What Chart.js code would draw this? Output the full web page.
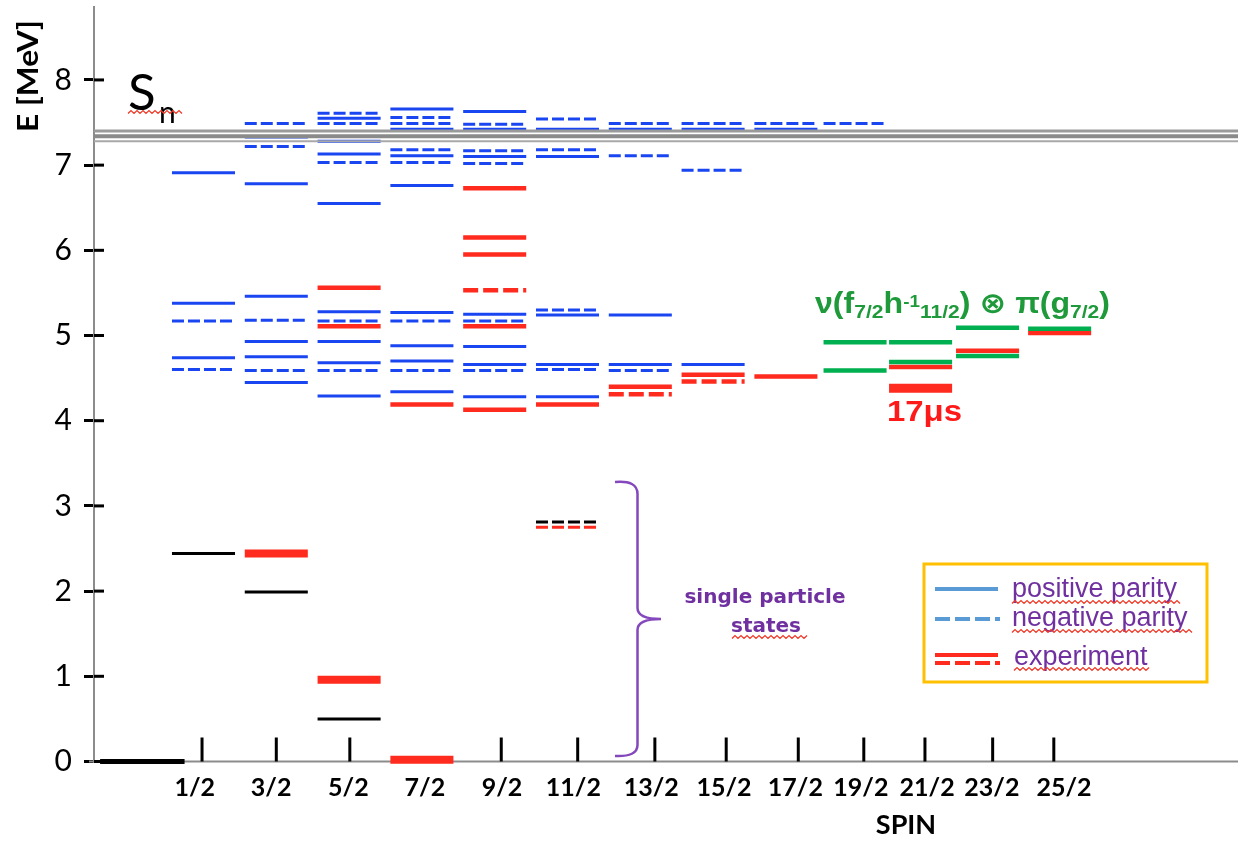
<!DOCTYPE html>
<html>
<head>
<meta charset="utf-8">
<title>Level scheme</title>
<script src="https://cdn.jsdelivr.net/npm/chart.js@4.4.1/dist/chart.umd.min.js"></script>
<style>
  html, body { margin: 0; padding: 0; background: #ffffff; }
  #chartBox { position: relative; width: 1238px; height: 841px; }
</style>
</head>
<body>
<div id="chartBox"><canvas id="levelChart"></canvas></div>
<script>
// spin columns, '0' is the ground state column
const spins = ['0', '1/2', '3/2', '5/2', '7/2', '9/2', '11/2', '13/2', '15/2', '17/2', '19/2', '21/2', '23/2', '25/2'];
const energyTicks = [0, 1, 2, 3, 4, 5, 6, 7, 8];

// neutron separation energy and its band [MeV]
const snEnergy = 7.34;
const snBand = [7.40, 7.28];

// shell model, positive parity  [spin, E in MeV]
const calcPositive = [
  ['1/2', 6.91], ['1/2', 5.38], ['1/2', 4.74],
  ['3/2', 7.33], ['3/2', 6.78], ['3/2', 5.46], ['3/2', 4.93], ['3/2', 4.75], ['3/2', 4.45],
  ['5/2', 7.55], ['5/2', 7.28], ['5/2', 7.13], ['5/2', 6.55], ['5/2', 5.28], ['5/2', 4.93], ['5/2', 4.68], ['5/2', 4.29],
  ['7/2', 7.66], ['7/2', 7.42], ['7/2', 7.11], ['7/2', 6.76], ['7/2', 5.27], ['7/2', 4.88], ['7/2', 4.70], ['7/2', 4.34],
  ['9/2', 7.63], ['9/2', 7.42], ['9/2', 7.10], ['9/2', 5.25], ['9/2', 4.87], ['9/2', 4.66], ['9/2', 4.28],
  ['11/2', 7.42], ['11/2', 7.10], ['11/2', 5.24], ['11/2', 4.66], ['11/2', 4.28],
  ['13/2', 7.42], ['13/2', 5.24], ['13/2', 4.66],
  ['15/2', 7.42], ['15/2', 4.66],
  ['17/2', 7.42]
];

// shell model, negative parity
const calcNegative = [
  ['1/2', 5.17], ['1/2', 4.60],
  ['3/2', 7.49], ['3/2', 7.22], ['3/2', 5.18], ['3/2', 4.59],
  ['5/2', 7.61], ['5/2', 7.49], ['5/2', 7.03], ['5/2', 5.17], ['5/2', 4.59],
  ['7/2', 7.56], ['7/2', 7.49], ['7/2', 7.18], ['7/2', 7.03], ['7/2', 5.17], ['7/2', 4.59],
  ['9/2', 7.48], ['9/2', 7.17], ['9/2', 7.02], ['9/2', 5.17], ['9/2', 4.59],
  ['11/2', 7.54], ['11/2', 7.18], ['11/2', 5.30], ['11/2', 4.60],
  ['13/2', 7.49], ['13/2', 7.11], ['13/2', 4.59],
  ['15/2', 7.49], ['15/2', 6.94],
  ['17/2', 7.49],
  ['19/2', 7.49]
];

// experiment
const expSolid = [
  ['5/2', 5.56], ['5/2', 5.11], ['7/2', 4.19],
  ['9/2', 6.73], ['9/2', 6.15], ['9/2', 5.95], ['9/2', 5.11], ['9/2', 4.13],
  ['11/2', 4.19], ['13/2', 4.40], ['15/2', 4.54], ['17/2', 4.52],
  ['21/2', 4.63], ['23/2', 4.82], ['25/2', 5.03]
];
const expDashed = [['9/2', 5.53], ['13/2', 4.31], ['15/2', 4.46]];
const expLow = [['3/2', 2.44], ['5/2', 0.96], ['7/2', 0.02]];
const expIsomer = [['21/2', 4.38]];
const expLowDashed = [['11/2', 2.75]];

// single particle states
const spGround = [['0', 0]];
const spSolid = [['1/2', 2.44], ['3/2', 1.99], ['5/2', 0.50]];
const spDashed = [['11/2', 2.81]];

// nu(f7/2 h-1 11/2) x pi(g7/2) multiplet
const multiplet = [
  ['19/2', 4.92], ['19/2', 4.59], ['21/2', 4.92], ['21/2', 4.69],
  ['23/2', 5.09], ['23/2', 4.76], ['25/2', 5.08]
];

// layout of the spin columns (x axis units)
const colCenter = [0.16, 1, 2, 3, 4, 5, 6, 7, 8, 9, 9.95, 10.85, 11.77, 12.76];
const tickAt = [null, 0.98, 2.0, 3.01, null, 5.09, 6.14, 7.2, 8.18, 9.17, 10.07, 10.91, 11.84, 12.68];
const labelAt = [null, 0.88, 1.93, 2.99, 4.04, 5.1, 6.08, 7.15, 8.15, 9.13, 10.03, 10.94, 11.83, 12.82];
const levelHalf = 0.433, groundHalf = 0.58;
const xMin = -0.504, xMax = 15.21;

const BLUE = '#1a46f2', RED = '#ff2b1e', GREEN = '#00b050', PURPLE = '#7030a0';
const SANS = "'Liberation Sans', Arial, 'DejaVu Sans', sans-serif";
const HUMAN = "Lato, 'Liberation Sans', sans-serif";

function toSegments(levels) {
  const pts = [];
  levels.forEach(([spin, e]) => {
    const c = spins.indexOf(spin);
    const h = c === 0 ? groundHalf : levelHalf;
    pts.push({ x: colCenter[c] - h, y: e }, { x: colCenter[c] + h, y: e }, { x: colCenter[c] + h, y: null });
  });
  return pts;
}

function snLine(e) {
  return [{ x: xMin, y: e }, { x: xMax, y: e }];
}

function lineSet(data, color, width, dash) {
  return {
    data: data,
    borderColor: color,
    borderWidth: width,
    borderDash: dash || [],
    borderCapStyle: 'butt',
    pointRadius: 0,
    fill: false,
    tension: 0,
    spanGaps: false,
    clip: false
  };
}

function wavy(ctx, x1, x2, y) {
  ctx.save();
  ctx.strokeStyle = '#f03a28';
  ctx.lineWidth = 1.4;
  ctx.beginPath();
  let i = 0;
  for (let x = x1; x <= x2; x += 3, i++) {
    const yy = y + (i % 2 ? -1.4 : 1.4);
    if (i === 0) ctx.moveTo(x, yy); else ctx.lineTo(x, yy);
  }
  ctx.stroke();
  ctx.restore();
}

function fitText(ctx, str, x, y, width) {
  const w = ctx.measureText(str).width;
  ctx.save();
  ctx.translate(x, y);
  ctx.scale(width / w, 1);
  ctx.fillText(str, 0, 0);
  ctx.restore();
}

function drawPieces(ctx, pieces, x0, base, width, color) {
  let total = 0;
  pieces.forEach(p => { ctx.font = 'bold ' + p[1] + 'px ' + SANS; total += ctx.measureText(p[0]).width; });
  ctx.save();
  ctx.translate(x0, base);
  ctx.scale(width / total, 1);
  ctx.fillStyle = color;
  ctx.textAlign = 'left';
  ctx.textBaseline = 'alphabetic';
  let x = 0;
  pieces.forEach(p => {
    ctx.font = 'bold ' + p[1] + 'px ' + SANS;
    ctx.fillText(p[0], x, p[2]);
    x += ctx.measureText(p[0]).width;
  });
  ctx.restore();
}

function hLine(ctx, x1, x2, y, color, width, dash) {
  ctx.save();
  ctx.strokeStyle = color;
  ctx.lineWidth = width;
  ctx.setLineDash(dash || []);
  ctx.beginPath();
  ctx.moveTo(x1, y);
  ctx.lineTo(x2, y);
  ctx.stroke();
  ctx.restore();
}

const annotate = {
  id: 'annotate',
  beforeDatasetsDraw(chart) {
    const ctx = chart.ctx, xs = chart.scales.x, ys = chart.scales.y;
    const y0 = ys.getPixelForValue(0);
    ctx.save();
    // x axis line
    hLine(ctx, 89, 1238, y0, '#8c8c8c', 2);
    // inner half of the energy ticks
    energyTicks.forEach(v => hLine(ctx, ys.left + ys.width, ys.left + ys.width + 10, ys.getPixelForValue(v), '#000', 3));
    // spin tick marks
    ctx.strokeStyle = '#000';
    ctx.lineWidth = 3;
    spins.forEach((s, i) => {
      if (tickAt[i] === null) return;
      const px = xs.getPixelForValue(tickAt[i]);
      ctx.beginPath();
      ctx.moveTo(px, y0 - 24);
      ctx.lineTo(px, y0);
      ctx.stroke();
    });
    ctx.restore();
  },
  afterDatasetsDraw(chart) {
    const ctx = chart.ctx, xs = chart.scales.x;
    ctx.save();

    // spin labels
    ctx.fillStyle = '#000';
    ctx.font = 'bold 25px ' + HUMAN;
    ctx.textAlign = 'center';
    ctx.textBaseline = 'middle';
    spins.forEach((s, i) => {
      if (labelAt[i] === null) return;
      ctx.fillText(s, xs.getPixelForValue(labelAt[i]), 788);
    });
    ctx.font = 'bold 27px ' + HUMAN;
    ctx.fillText('SPIN', 906, 825);

    // energy axis title
    ctx.save();
    ctx.translate(28.5, 76);
    ctx.rotate(-Math.PI / 2);
    ctx.font = 'bold 28px ' + HUMAN;
    ctx.textAlign = 'left';
    const tw = ctx.measureText('E [MeV]').width;
    ctx.scale(112 / tw, 1);
    ctx.fillText('E [MeV]', -tw / 2, 0);
    ctx.restore();

    // S_n label
    ctx.textAlign = 'left';
    ctx.textBaseline = 'alphabetic';
    ctx.fillStyle = '#000';
    ctx.font = '51px ' + HUMAN;
    ctx.fillText('S', 128, 110);
    ctx.font = '30px ' + HUMAN;
    ctx.fillText('n', 159, 123);
    wavy(ctx, 128, 183, 112);

    // multiplet label
    drawPieces(ctx, [
      ['\u03bd(f', 29, 0], ['7/2', 19, 5], ['h', 29, 0], ['-1', 17, -6], ['11/2', 19, 5],
      [')', 29, 0], [' \u2297 ', 29, 0], ['\u03c0(g', 29, 0], ['7/2', 19, 5], [')', 29, 0]
    ], 815, 313, 295, '#1f9a3a');

    // isomer half-life
    ctx.fillStyle = '#ff1a1a';
    ctx.font = 'bold 30px ' + SANS;
    fitText(ctx, '17\u03bcs', 887, 421, 75);

    // brace and single particle label
    ctx.strokeStyle = '#8448bc';
    ctx.lineWidth = 2.5;
    ctx.beginPath();
    ctx.moveTo(615, 482);
    ctx.quadraticCurveTo(637.5, 480, 637.5, 494);
    ctx.lineTo(637.5, 608);
    ctx.quadraticCurveTo(637.5, 619, 661, 619);
    ctx.moveTo(661, 619);
    ctx.quadraticCurveTo(637.5, 619, 637.5, 630);
    ctx.lineTo(637.5, 745);
    ctx.quadraticCurveTo(637.5, 757, 615, 756);
    ctx.stroke();

    ctx.fillStyle = PURPLE;
    ctx.font = "bold 20px 'DejaVu Sans', sans-serif";
    ctx.textAlign = 'center';
    ctx.fillText('single particle', 765, 603);
    ctx.fillText('states', 766, 632);
    wavy(ctx, 732, 807, 637);

    // legend
    ctx.strokeStyle = '#ffc000';
    ctx.lineWidth = 3;
    ctx.strokeRect(924, 564, 283, 118);
    hLine(ctx, 935, 998, 589, '#5b9bd5', 4);
    hLine(ctx, 935, 1000, 619, '#5b9bd5', 4, [15, 5]);
    hLine(ctx, 935, 998, 655, RED, 4);
    hLine(ctx, 935, 1000, 663, RED, 4, [15, 5]);
    ctx.fillStyle = PURPLE;
    ctx.font = '27px ' + SANS;
    ctx.textAlign = 'left';
    ctx.fillText('positive parity', 1012, 597);
    ctx.fillText('negative parity', 1012, 626);
    ctx.fillText('experiment', 1014, 665);
    wavy(ctx, 1012, 1180, 602);
    wavy(ctx, 1012, 1192, 631);
    wavy(ctx, 1014, 1150, 669);

    ctx.restore();
  }
};

new Chart(document.getElementById('levelChart'), {
  type: 'line',
  data: {
    datasets: [
      lineSet(snLine(snBand[0]), '#9a9a9a', 3),
      lineSet(snLine(snEnergy), '#8a8a8a', 4),
      lineSet(snLine(snBand[1]), '#a8a8a8', 2),
      lineSet(toSegments(calcPositive), BLUE, 3),
      lineSet(toSegments(calcNegative), BLUE, 3, [12, 4]),
      lineSet(toSegments(spGround), '#000', 5),
      lineSet(toSegments(spSolid), '#000', 3),
      lineSet(toSegments(spDashed), '#000', 3, [12, 4]),
      lineSet(toSegments(multiplet), GREEN, 4.5),
      lineSet(toSegments(expSolid), RED, 4.5),
      lineSet(toSegments(expDashed), RED, 4.5, [15, 5]),
      lineSet(toSegments(expLow), RED, 8),
      lineSet(toSegments(expIsomer), RED, 9),
      lineSet(toSegments(expLowDashed), RED, 3, [12, 4])
    ]
  },
  options: {
    responsive: true,
    maintainAspectRatio: false,
    animation: false,
    events: [],
    layout: { padding: { left: 0, right: 0, top: 7, bottom: 79.5 } },
    plugins: { legend: { display: false }, tooltip: { enabled: false } },
    scales: {
      x: { type: 'linear', min: xMin, max: xMax, display: false },
      y: {
        min: 0,
        max: 8.856,
        afterBuildTicks(scale) { scale.ticks = energyTicks.map(v => ({ value: v })); },
        afterFit(scale) { scale.width = 94; scale.paddingTop = 0; scale.paddingBottom = 0; },
        ticks: { font: { family: HUMAN, size: 30 }, color: '#000', padding: 12 },
        grid: { drawOnChartArea: false, drawTicks: true, tickLength: 10, color: '#000', lineWidth: 3 },
        border: { display: true, color: '#8c8c8c', width: 2 }
      }
    }
  },
  plugins: [annotate]
});
</script>
</body>
</html>
